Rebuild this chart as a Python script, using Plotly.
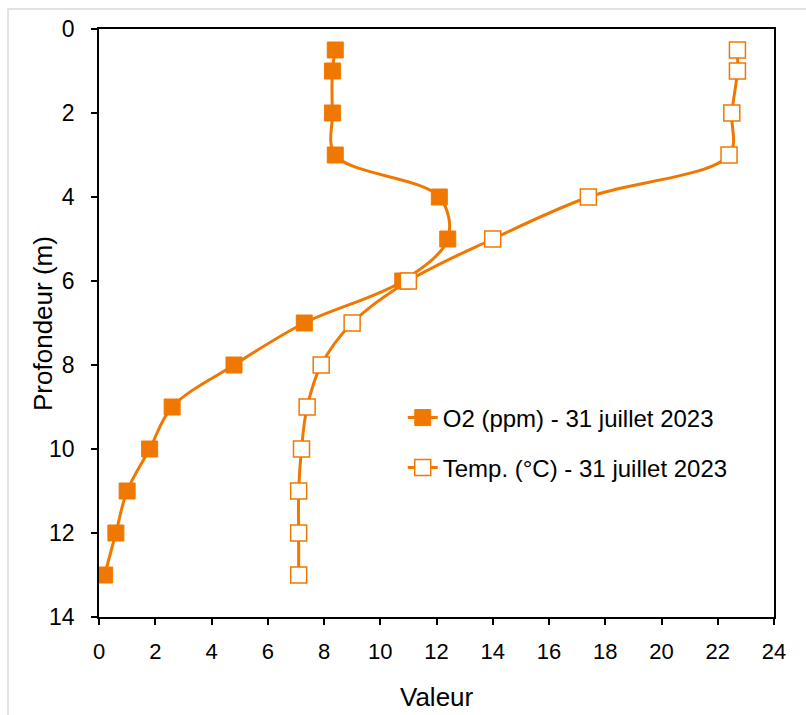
import plotly.graph_objects as go

depth = [0.5, 1, 2, 3, 4, 5, 6, 7, 8, 9, 10, 11, 12, 13]
o2_ppm = [8.4, 8.3, 8.3, 8.4, 12.1, 12.4, 10.8, 7.3, 4.8, 2.6, 1.8, 1.0, 0.6, 0.2]
temp_c = [22.7, 22.7, 22.5, 22.4, 17.4, 14.0, 11.0, 9.0, 7.9, 7.4, 7.2, 7.1, 7.1, 7.1]

x_ticks = list(range(0, 25, 2))
y_ticks = list(range(0, 15, 2))

ORANGE = "#F07800"
FONT = "Liberation Sans, Arial, sans-serif"

fig = go.Figure()
fig.add_trace(go.Scatter(
    x=o2_ppm, y=depth, name="O2 (ppm) - 31 juillet 2023",
    mode="lines+markers", line=dict(color=ORANGE, width=3, shape="spline"),
    marker=dict(symbol="square", size=16, color=ORANGE, line=dict(color=ORANGE, width=1)),
    legend="legend", showlegend=True,
))
fig.add_trace(go.Scatter(
    x=temp_c, y=depth, name="Temp. (°C) - 31 juillet 2023",
    mode="lines+markers", line=dict(color=ORANGE, width=3, shape="spline"),
    marker=dict(symbol="square", size=16, color="white", line=dict(color=ORANGE, width=1.5)),
    legend="legend2", showlegend=True,
))

axis_common = dict(
    showline=True, linecolor="black", linewidth=1.5, mirror=True,
    ticks="outside", ticklen=6, tickcolor="black", tickwidth=1.5,
    showgrid=False, zeroline=False,
)

fig.update_layout(
    width=806, height=715,
    margin=dict(l=99, r=32, t=29, b=98),
    paper_bgcolor="white", plot_bgcolor="white",
    font=dict(family=FONT, color="black"),
    xaxis=dict(range=[0, 24], tickvals=x_ticks,
               tickfont=dict(family=FONT, size=22, color="black"),
               ticklabelstandoff=8,
               **axis_common),
    yaxis=dict(range=[14, 0], tickvals=y_ticks,
               tickfont=dict(family=FONT, size=23, color="black"),
               ticklabelstandoff=12,
               **axis_common),
    legend=dict(x=0.45, y=0.3384, xanchor="left", yanchor="middle",
                bgcolor="rgba(0,0,0,0)", font=dict(family=FONT, size=24, color="black")),
    legend2=dict(x=0.45, y=0.2534, xanchor="left", yanchor="middle",
                 bgcolor="rgba(0,0,0,0)", font=dict(family=FONT, size=24, color="black")),
    annotations=[
        dict(text="Profondeur (m)", xref="paper", yref="paper", x=-0.083, y=0.5,
             xanchor="center", yanchor="middle", textangle=-90, showarrow=False,
             font=dict(family=FONT, size=26, color="black")),
        dict(text="Valeur", xref="paper", yref="paper", x=0.5, y=-0.136,
             xanchor="center", yanchor="middle", showarrow=False,
             font=dict(family=FONT, size=26, color="black")),
    ],
    shapes=[dict(type="rect", xref="paper", yref="paper",
                 x0=-0.1348, y0=-1, x1=2, y1=1.034,
                 line=dict(color="#D9D9D9", width=1.5), fillcolor="rgba(0,0,0,0)", layer="below")],
)

fig.write_html("out.html", post_script="document.body.style.margin='0';",
               config={"displayModeBar": False})
